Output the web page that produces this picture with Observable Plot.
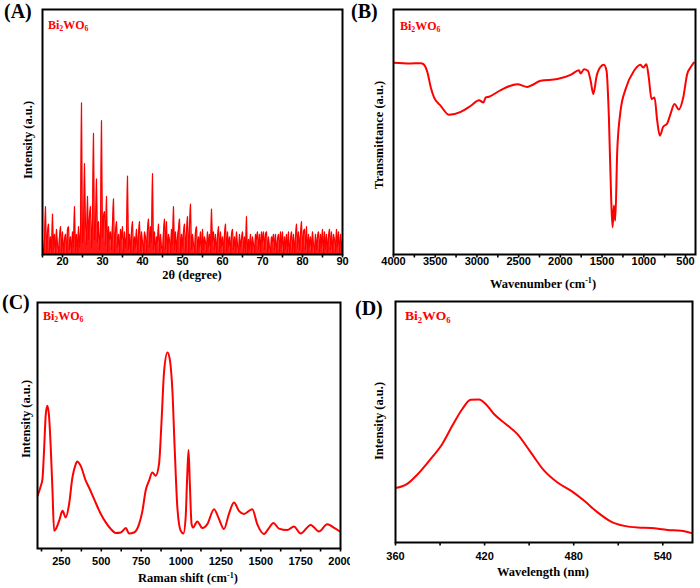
<!DOCTYPE html>
<html><head><meta charset="utf-8">
<script src="https://cdn.jsdelivr.net/npm/d3@7"></script>
<script src="https://cdn.jsdelivr.net/npm/@observablehq/plot@0.6"></script>
<style>
body{margin:0;background:#fff;}
#wrap{position:relative;width:700px;height:588px;overflow:hidden;background:#fff;}
.p{position:absolute;}
.p svg{overflow:visible;}
.t{position:absolute;font-family:"Liberation Serif","Times New Roman",serif;font-weight:bold;color:#000;white-space:nowrap;line-height:1;}
.lab{font-size:20px;}
.bi{color:#f00;font-size:12px;}
.bi sub{font-size:0.65em;vertical-align:baseline;position:relative;top:0.35em;}
.ttl{font-size:12.5px;}
.ttl sup{font-size:0.65em;vertical-align:baseline;position:relative;top:-0.55em;}
.xt{transform:translate(-50%,-50%);}
.yt{transform:translate(-50%,-50%) rotate(-90deg);}
</style></head>
<body>
<div id="wrap">
  <div class="p" id="pa" style="left:0;top:0;width:350px;height:290px"></div>
  <div class="p" id="pb" style="left:350px;top:0;width:350px;height:290px"></div>
  <div class="p" id="pc" style="left:0;top:290px;width:350px;height:298px"></div>
  <div class="p" id="pd" style="left:350px;top:290px;width:350px;height:298px"></div>

  <div class="t lab" style="left:4px;top:1px">(A)</div>
  <div class="t lab" style="left:351px;top:1px">(B)</div>
  <div class="t lab" style="left:2px;top:292px">(C)</div>
  <div class="t lab" style="left:355px;top:298px">(D)</div>

  <div class="t bi" style="left:48px;top:18.5px">Bi<sub>2</sub>WO<sub>6</sub></div>
  <div class="t bi" style="left:400px;top:19.5px">Bi<sub>2</sub>WO<sub>6</sub></div>
  <div class="t bi" style="left:43px;top:309.5px">Bi<sub>2</sub>WO<sub>6</sub></div>
  <div class="t bi" style="left:405px;top:309px;font-size:13.5px">Bi<sub>2</sub>WO<sub>6</sub></div>

  <div class="t ttl xt" style="left:192px;top:274.5px">2θ (degree)</div>
  <div class="t ttl xt" style="left:543px;top:283.5px">Wavenumber (cm<sup>-1</sup>)</div>
  <div class="t ttl xt" style="left:188px;top:578px">Raman shift (cm<sup>-1</sup>)</div>
  <div class="t ttl xt" style="left:543px;top:572px">Wavelength (nm)</div>

  <div class="t ttl yt" style="left:27.5px;top:140px">Intensity (a.u.)</div>
  <div class="t ttl yt" style="left:379px;top:134.5px">Transmittance (a.u.)</div>
  <div class="t ttl yt" style="left:26px;top:418.5px">Intensity (a.u.)</div>
  <div class="t ttl yt" style="left:379px;top:421px">Intensity (a.u.)</div>
</div>
<script>
// ---------- (A) XRD pattern, 2θ = 15 … 90 in 0.25° steps ----------
const xrdStart = 15;
const xrdStep = 0.25;
const xrdIntensity = [
  6,2,9,22, 3,12,15,4, 10,2,19,5, 11,3,13,7, 2,10,14,4,
  12,3,9,11, 2,13,14,5, 10,3,12,6, 22,4,11,3, 14,6,12,63,
  8,12,39,15, 7,26,9,18, 22,6,17,51, 9,14,33,8, 16,5,12,56,
  10,18,20,7, 26,4,14,9, 12,5,15,25, 4,12,16,6, 11,3,13,9,
  14,4,12,6, 10,34,5,11, 3,12,16,4, 10,6,13,3, 11,16,4,12,
  8,2,12,10, 4,13,17,6, 14,8,35,5, 12,3,10,8, 15,4,11,6,
  3,12,17,5, 16,3,11,9, 2,13,7,22, 5,12,4,10, 13,17,3,11,
  6,12,15,4, 12,18,3,14, 23,5,11,7, 3,12,14,4, 10,6,12,2,
  13,5,10,8, 4,12,6,11, 3,21,8,12, 5,11,3,10, 14,4,12,6,
  10,3,11,15, 4,12,6,10, 3,11,13,5, 10,4,12,7, 2,11,6,9,
  12,4,10,3, 18,1,9,5, 11,4,10,7, 3,11,9,12, 5,11,4,12,
  8,12,5,11, 12,4,10,6, 3,10,8,11, 5,11,3,9, 11,4,12,6,
  12,3,10,5, 11,4,12,2, 9,12,4,11, 3,10,15,6, 12,5,11,16,
  4,12,13,5, 14,3,11,6, 10,4,12,7, 3,11,5,10, 12,4,11,6,
  13,3,12,5, 11,4,10,13, 5,12,3,11, 9,4,13,6, 12,3,11,6,
  8
];
const xrdMajorTicks = [20, 30, 40, 50, 60, 70, 80, 90];
const xrdMinorTicks = [15, 25, 35, 45, 55, 65, 75, 85];

// ---------- (B) FTIR ----------
const ftirWavenumber = [3995,3800,3673,3641,3593,3553,3514,3434,3334,3194,3074,2975,2922,2895,2855,2715,2515,2395,2335,2236,2036,1877,1777,1757,1717,1670,1637,1605,1565,1518,1478,1446,1418,1390,1374,1358,1342,1318,1278,1218,1119,1039,1007,968,940,907,871,839,808,767,719,680,632,580,527,480,440,400];
const ftirTransmittance = [78.3,78.0,78.1,77.7,74.3,68.2,64.1,60.7,57.0,58.2,60.7,63.0,62.0,64.1,64.4,67.1,69.5,68.4,69.2,70.9,71.6,73.3,75.2,73.9,75.6,75.0,70.9,65.5,72.9,76.6,77.4,74.9,55.9,22,11.1,20,13.8,42.4,58.7,67.5,74.9,77.4,76.3,77.7,72.2,63.4,64.1,54.6,48.5,52.1,53.5,57.3,61.4,59.2,64.1,73.6,76.3,78.3];
const ftirMajorTicks = [4000, 3500, 3000, 2500, 2000, 1500, 1000, 500];
const ftirMinorTicks = [3750, 3250, 2750, 2250, 1750, 1250, 750];

// ---------- (C) Raman ----------
const ramanShift = [100,121,131,141,152,162,173,183,194,204,215,236,257,277,298,319,340,348,371,403,423,455,497,528,560,591,622,654,674,705,737,758,778,799,820,841,862,877,894,915,931,946,960,977,998,1015,1029,1038,1047,1055,1066,1075,1102,1134,1165,1207,1238,1269,1300,1332,1363,1394,1447,1478,1520,1551,1579,1614,1666,1708,1750,1813,1865,1917,1958,1996];
const ramanIntensity = [21.4,25.5,28.2,39.7,54.6,58,53.3,41.1,23.5,7.2,7.9,11.3,15.3,12.6,18,28.9,34.3,35.4,33.6,27.5,24.8,20.1,14,10.6,7.9,6.3,6.5,8.3,6.1,6.5,9.9,15.3,23.5,27.5,30.9,29.6,34.3,50.6,72.2,79.7,76.3,64.1,41.1,16.7,7.2,6.1,12.6,28,40,27,10,8.5,11,8.3,9.9,16,12,7.9,14,18.7,15.3,14,16,9.9,5.9,8.3,10.4,8.1,7.5,8.9,6.1,9.6,6.9,9.9,8.5,6.9];
const ramanMajorTicks = [250, 500, 750, 1000, 1250, 1500, 1750, 2000];
const ramanMinorTicks = [125, 375, 625, 875, 1125, 1375, 1625, 1875];

// ---------- (D) PL ----------
const plWavelength = [360,367.9,374.6,383.6,391.5,398.3,405,410.6,416.2,420.7,426.3,434.2,442.1,451.1,460.1,469.1,478.1,487.1,496.1,505.1,514.1,523.1,532.1,543.3,552.3,559.5];
const plIntensity = [22.6,24.3,28.1,34.6,40.9,48.5,55.4,59.2,59.3,57.5,53.3,49.2,45,37.4,29.8,24.9,21.5,17.3,12.5,8.7,6.9,6.2,6,5.2,4.9,3.9];
const plMajorTicks = [360, 420, 480, 540];
const plMinorTicks = [390, 450, 510];

// ---------- build ----------
const RED = "#ff0000";
const SANS = "'Liberation Sans', Arial, sans-serif";

function axes(major, minor, pad) {
  return [
    Plot.axisX(minor, {anchor: "bottom", tickSize: 3.5, strokeWidth: 1.6, tickFormat: () => "", label: null}),
    Plot.axisX(major, {anchor: "bottom", tickSize: 3.5, strokeWidth: 1.6, tickPadding: pad,
      tickFormat: d => String(d),
      fontSize: 11, fontWeight: "bold", fontFamily: SANS, fill: "black", label: null})
  ];
}

const xrdData = xrdIntensity.map((v, i) => ({t: xrdStart + i * xrdStep, v}));
const ftirData = ftirWavenumber.map((w, i) => ({w, v: ftirTransmittance[i]}));
const ramanData = ramanShift.map((s, i) => ({s, v: ramanIntensity[i]}));
const plData = plWavelength.map((w, i) => ({w, v: plIntensity[i]}));

const A = Plot.plot({
  width: 350, height: 290, marginLeft: 42, marginRight: 8, marginTop: 9, marginBottom: 36,
  style: {background: "white", overflow: "visible"},
  x: {domain: [15, 90]},
  y: {domain: [3, 100], axis: null},
  marks: [
    Plot.areaY(xrdData, {x: "t", y1: 0, y2: "v", fill: RED, fillOpacity: 0.9, clip: true}),
    Plot.line(xrdData, {x: "t", y: "v", stroke: RED, strokeWidth: 1.2, clip: true}),
    Plot.frame({stroke: "black", strokeWidth: 2}),
    ...axes(xrdMajorTicks, xrdMinorTicks, -1)
  ]
});
document.getElementById("pa").append(A);

const B = Plot.plot({
  width: 350, height: 290, marginLeft: 43, marginRight: 5, marginTop: 9, marginBottom: 36,
  style: {background: "white", overflow: "visible"},
  x: {domain: [4000, 380]},
  y: {domain: [0, 100], axis: null},
  marks: [
    Plot.line(ftirData, {x: "w", y: "v", stroke: RED, strokeWidth: 2, curve: "monotone-x", clip: true}),
    Plot.frame({stroke: "black", strokeWidth: 2}),
    ...axes(ftirMajorTicks, ftirMinorTicks, -1)
  ]
});
document.getElementById("pb").append(B);

const C = Plot.plot({
  width: 350, height: 298, marginLeft: 37, marginRight: 10, marginTop: 12, marginBottom: 40,
  style: {background: "white", overflow: "visible"},
  x: {domain: [100, 2000]},
  y: {domain: [0, 100], axis: null},
  marks: [
    Plot.line(ramanData, {x: "s", y: "v", stroke: RED, strokeWidth: 2, curve: "monotone-x", clip: true}),
    Plot.frame({stroke: "black", strokeWidth: 2}),
    ...axes(ramanMajorTicks, ramanMinorTicks, 5.5)
  ]
});
document.getElementById("pc").append(C);

const D = Plot.plot({
  width: 350, height: 298, marginLeft: 45, marginRight: 8, marginTop: 11, marginBottom: 46,
  style: {background: "white", overflow: "visible"},
  x: {domain: [360, 560]},
  y: {domain: [0, 100], axis: null},
  marks: [
    Plot.line(plData, {x: "w", y: "v", stroke: RED, strokeWidth: 2, curve: "monotone-x", clip: true}),
    Plot.frame({stroke: "black", strokeWidth: 2}),
    ...axes(plMajorTicks, plMinorTicks, 6.5)
  ]
});
document.getElementById("pd").append(D);
</script>
</body></html>
